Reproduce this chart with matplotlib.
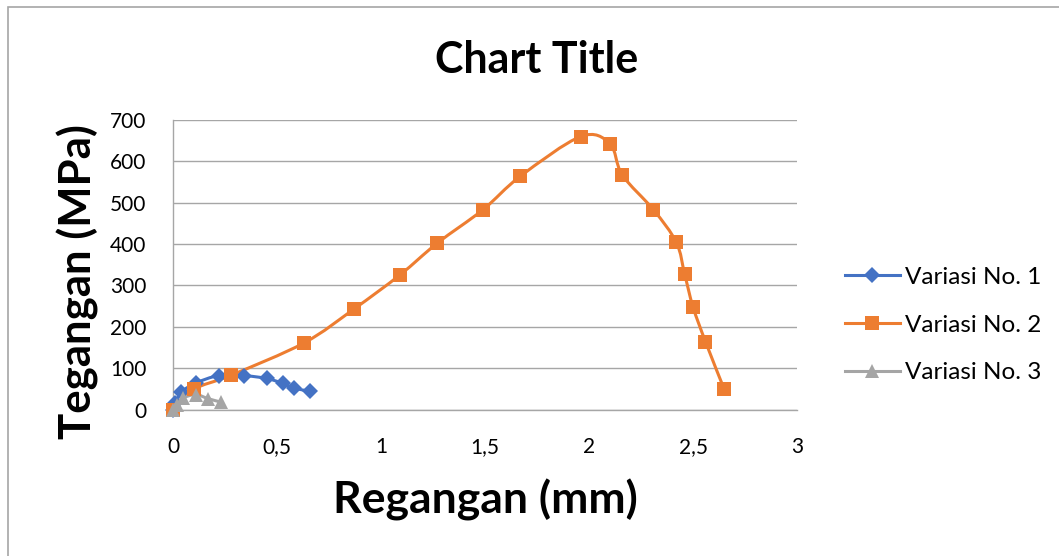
import numpy as np
import matplotlib
matplotlib.use("Agg")
import matplotlib.pyplot as plt
from matplotlib.path import Path
from matplotlib.patches import PathPatch, Rectangle
from matplotlib.lines import Line2D

# Stress-strain data for three specimen variations
strain_v1 = [0.0, 0.01, 0.04, 0.11, 0.22, 0.34, 0.45, 0.53, 0.58, 0.66]
stress_v1 = [0, 15, 42, 64, 82, 82, 75, 63, 52, 44]

strain_v2 = [0.0, 0.10, 0.28, 0.63, 0.87, 1.09, 1.27, 1.49, 1.67, 1.96,
             2.10, 2.16, 2.31, 2.42, 2.46, 2.50, 2.56, 2.65]
stress_v2 = [0, 49, 83, 161, 243, 325, 402, 483, 564, 660,
             643, 567, 483, 404, 327, 248, 164, 49]

strain_v3 = [0.0, 0.02, 0.05, 0.11, 0.17, 0.23]
stress_v3 = [0, 12, 28, 36, 26, 18]

series_names = ["Variasi No. 1", "Variasi No. 2", "Variasi No. 3"]
colors = ["#4472C4", "#ED7D31", "#A5A5A5"]
markers = ["D", "s", "^"]
marker_sizes = [8.5, 10, 10.5]

x_ticks = [0, 0.5, 1, 1.5, 2, 2.5, 3]
x_tick_labels = ["0", "0,5", "1", "1,5", "2", "2,5", "3"]
y_ticks = [0, 100, 200, 300, 400, 500, 600, 700]

FONT = "Lato"


def smooth_path(xs, ys):
    """Cubic Bezier path through the points (Catmull-Rom style smoothing)."""
    pts = np.column_stack([xs, ys]).astype(float)
    n = len(pts)
    verts = [pts[0]]
    codes = [Path.MOVETO]
    for i in range(n - 1):
        p_prev = pts[i - 1] if i > 0 else pts[i]
        p0 = pts[i]
        p1 = pts[i + 1]
        p_next = pts[i + 2] if i + 2 < n else pts[i + 1]
        c1 = p0 + (p1 - p_prev) / 6.0
        c2 = p1 - (p_next - p0) / 6.0
        verts += [c1, c2, p1]
        codes += [Path.CURVE4] * 3
    return Path(np.array(verts), codes)


W, H = 1059, 556
fig = plt.figure(figsize=(W / 100, H / 100), dpi=100)
fig.patch.set_facecolor("white")

# chart-area frame
fig.patches.append(Rectangle((8 / W, 0 - 0.1), 1.2, 1 - 7 / H + 0.1,
                             transform=fig.transFigure, fill=False,
                             edgecolor="#A6A6A6", linewidth=1.2))

ax = fig.add_axes([173 / W, 1 - 409.5 / H, (797 - 173) / W, (409.5 - 120) / H])
ax.set_xlim(0, 3)
ax.set_ylim(0, 700)

for s in ["top", "right"]:
    ax.spines[s].set_visible(False)
for s in ["left", "bottom"]:
    ax.spines[s].set_color("#A6A6A6")
    ax.spines[s].set_linewidth(1.0)

ax.set_yticks(y_ticks)
ax.set_xticks(x_ticks)
ax.set_xticklabels(x_tick_labels)
ax.tick_params(axis="both", length=0, labelsize=15, labelcolor="#000000")
ax.tick_params(axis="x", pad=20)
ax.tick_params(axis="y", pad=19)
for lab in ax.get_xticklabels() + ax.get_yticklabels():
    lab.set_fontfamily(FONT)
ax.grid(axis="y", color="#A6A6A6", linewidth=1.0)
ax.set_axisbelow(True)

data = [(strain_v1, stress_v1), (strain_v2, stress_v2), (strain_v3, stress_v3)]
handles = []
for (xs, ys), c, m, ms, name in zip(data, colors, markers, marker_sizes, series_names):
    ax.add_patch(PathPatch(smooth_path(xs, ys), facecolor="none", edgecolor=c,
                           linewidth=2.2, zorder=3, clip_on=False))
    ax.plot(xs, ys, linestyle="none", marker=m, markersize=ms, color=c,
            markeredgewidth=0, zorder=4, clip_on=False)
    handles.append(Line2D([], [], color=c, linewidth=2.2, marker=m,
                          markersize=ms, markeredgewidth=0, label=name))

fig.legend(handles=handles, loc="center left",
           bbox_to_anchor=(845 / W, 1 - 325 / H), frameon=False,
           prop={"family": FONT, "size": 17.5}, handlelength=2.25,
           handletextpad=0.2, labelspacing=1.1, borderaxespad=0,
           borderpad=0)

fig.text(537 / W, 1 - 60 / H, "Chart Title", ha="center", va="center",
         fontsize=31, fontweight="bold", family=FONT)
fig.text(485 / W, 1 - 500 / H, "Regangan (mm)", ha="center", va="center",
         fontsize=32, fontweight="bold", family=FONT)
fig.text(78 / W, 1 - 282 / H, "Tegangan (MPa)", ha="center", va="center",
         rotation=90, fontsize=31.5, fontweight="bold", family=FONT)

fig.savefig("out.png", dpi=100, facecolor="white")
